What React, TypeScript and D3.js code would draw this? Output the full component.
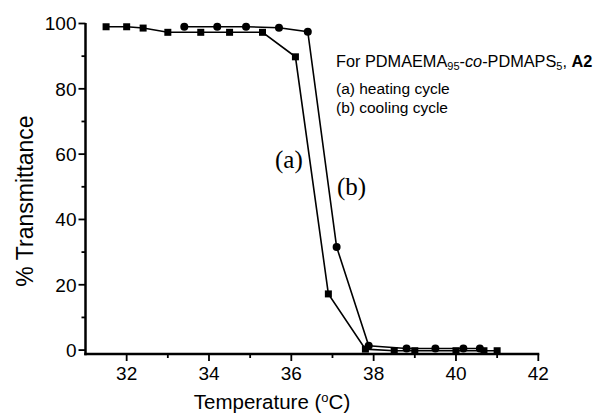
import React from "react";
import * as d3 from "d3";

const heatT = [31.5, 32.0, 32.4, 33.0, 33.8, 34.5, 35.3, 36.1, 36.9, 37.8, 38.5, 39.0, 40.0, 40.68, 41.0];
const heatTr = [99.0, 99.0, 98.6, 97.3, 97.3, 97.3, 97.3, 89.8, 17.2, 0.3, -0.2, -0.2, -0.2, -0.2, -0.2];
const coolT = [33.4, 34.2, 34.9, 35.7, 36.4, 37.1, 37.88, 38.8, 39.5, 40.18, 40.58];
const coolTr = [99.0, 99.0, 99.0, 98.7, 97.5, 31.6, 1.3, 0.5, 0.5, 0.5, 0.5];
const xMajor = [32, 34, 36, 38, 40, 42];
const xMinor = [33, 35, 37, 39, 41];
const yMajor = [0, 20, 40, 60, 80, 100];
const yMinor = [10, 30, 50, 70, 90];

export default function App() {
  const W = 596, H = 416;
  const x = d3.scaleLinear().domain([31, 42]).range([85.5, 538.3]);
  const y = d3.scaleLinear().domain([-1.2, 100]).range([354, 23.5]);
  const heat = heatT.map((t, i) => [t, heatTr[i]] as [number, number]);
  const cool = coolT.map((t, i) => [t, coolTr[i]] as [number, number]);
  const line = d3.line<[number, number]>().x(d => x(d[0])).y(d => y(d[1]));
  const font = "'Liberation Sans', Arial, sans-serif";
  const serif = "'Liberation Serif', 'Times New Roman', serif";
  const x0 = x(31), yb = y(-1.2);
  return (
    <svg width={W} height={H} style={{ position: "absolute", left: 0, top: 0 }} fontFamily={font}>
      <rect width={W} height={H} fill="#fff" />
      <path d={line(heat) || ""} fill="none" stroke="#000" strokeWidth={1.6} />
      <path d={line(cool) || ""} fill="none" stroke="#000" strokeWidth={1.6} />
      {heat.map((d, i) => (
        <rect key={"h" + i} x={x(d[0]) - 3.5} y={y(d[1]) - 3.5} width={7} height={7} fill="#000" />
      ))}
      {cool.map((d, i) => (
        <circle key={"c" + i} cx={x(d[0])} cy={y(d[1])} r={4} fill="#000" />
      ))}
      <line x1={x0} x2={x0} y1={y(100) - 0.5} y2={yb + 1.25} stroke="#000" strokeWidth={2.5} />
      <line x1={x0 - 1.25} x2={x(42) + 1} y1={yb} y2={yb} stroke="#000" strokeWidth={2.5} />
      {yMajor.map(v => (
        <g key={"ym" + v}>
          <line x1={x0 - 7} x2={x0} y1={y(v)} y2={y(v)} stroke="#000" strokeWidth={1.8} />
          <text x={x0 - 9} y={y(v)} dy="0.36em" textAnchor="end" fontSize={19}>{v}</text>
        </g>
      ))}
      {yMinor.map(v => (
        <line key={"yn" + v} x1={x0 - 4} x2={x0} y1={y(v)} y2={y(v)} stroke="#000" strokeWidth={1.8} />
      ))}
      {xMajor.map(v => (
        <g key={"xm" + v}>
          <line x1={x(v)} x2={x(v)} y1={yb} y2={yb + 7} stroke="#000" strokeWidth={1.8} />
          <text x={x(v)} y={yb + 26} textAnchor="middle" fontSize={19}>{v}</text>
        </g>
      ))}
      {xMinor.map(v => (
        <line key={"xn" + v} x1={x(v)} x2={x(v)} y1={yb} y2={yb + 4} stroke="#000" strokeWidth={1.8} />
      ))}
      <text x={272} y={409} textAnchor="middle" fontSize={20.5}>
        Temperature (<tspan dy={-7} fontSize={13}>o</tspan><tspan dy={7}>C)</tspan>
      </text>
      <text transform="translate(33,201) rotate(-90)" textAnchor="middle" fontSize={23}>% Transmittance</text>
      <text x={275} y={168} fontFamily={serif} fontSize={25}>(a)</text>
      <text x={337} y={195} fontFamily={serif} fontSize={25}>(b)</text>
      <text x={336} y={66.5} fontSize={16.3}>
        For PDMAEMA<tspan fontSize={11} dy={3}>95</tspan><tspan dy={-3}>-</tspan><tspan fontStyle="italic">co</tspan>-PDMAPS<tspan fontSize={11} dy={3}>5</tspan><tspan dy={-3}>, </tspan><tspan fontWeight="bold">A2</tspan>
      </text>
      <text x={336} y={94} fontSize={15.5}>(a) heating cycle</text>
      <text x={336} y={113} fontSize={15.5}>(b) cooling cycle</text>
    </svg>
  );
}
